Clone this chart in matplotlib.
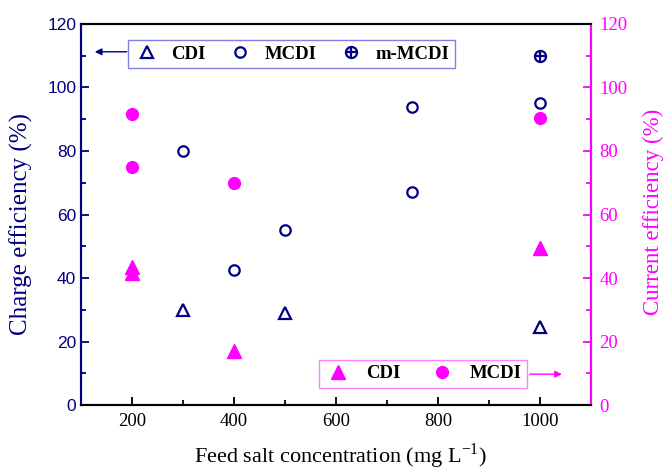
import matplotlib
matplotlib.use('Agg')
import matplotlib.pyplot as plt
from matplotlib.legend_handler import HandlerTuple
from matplotlib.ticker import MultipleLocator

NAVY, MAG = '#000080', '#FF00FF'
SERIF, SANS = 'Liberation Serif', 'Liberation Sans'
plt.rcParams['mathtext.fontset'] = 'custom'
plt.rcParams['mathtext.rm'] = SERIF

# charge efficiency (left axis, open markers)
cdi_charge_x = [300, 500, 1000]
cdi_charge = [30, 29, 24.5]
mcdi_charge_x = [300, 400, 500, 750, 750, 1000]
mcdi_charge = [80, 42.5, 55, 67, 94, 95]
mmcdi_charge_x = [1000]
mmcdi_charge = [110]

# current efficiency (right axis, filled markers)
cdi_current_x = [200, 200, 400, 1000]
cdi_current = [43.5, 41.5, 17, 49.5]
mcdi_current_x = [200, 200, 400, 1000]
mcdi_current = [91.5, 75, 70, 90.5]

fig = plt.figure(figsize=(6.65, 4.72), dpi=100)
ax = fig.add_axes([0.1218, 0.1419, 0.7669, 0.8073])
ax2 = ax.twinx()

ms_open = dict(ls='none', mfc='none', mec=NAVY, mew=1.6)
l_cdi, = ax.plot(cdi_charge_x, cdi_charge, '^', ms=8.5, **ms_open)
l_mcdi, = ax.plot(mcdi_charge_x, mcdi_charge, 'o', ms=7.5, **ms_open)
l_m1, = ax.plot(mmcdi_charge_x, mmcdi_charge, 'o', ms=8, **ms_open)
l_m2, = ax.plot(mmcdi_charge_x, mmcdi_charge, '+', ms=8, ls='none',
                color=NAVY, mew=1.6)
f_cdi, = ax2.plot(cdi_current_x, cdi_current, '^', ms=10.5, ls='none',
                  color=MAG, mec=MAG)
f_mcdi, = ax2.plot(mcdi_current_x, mcdi_current, 'o', ms=8.5, ls='none',
                   color=MAG, mec=MAG)

for a in (ax, ax2):
  a.set_xlim(100, 1100); a.set_ylim(0, 120)
  a.yaxis.set_major_locator(MultipleLocator(20))
  a.yaxis.set_minor_locator(MultipleLocator(10))
  for s in a.spines.values():
    s.set_linewidth(1.5)
ax.xaxis.set_minor_locator(MultipleLocator(100))
ax.set_xticks(range(200, 1001, 200))

ax.spines['left'].set_color(NAVY)
ax2.spines['left'].set_color(NAVY)
ax2.spines['right'].set_color(MAG)
ax.tick_params(axis='y', which='both', direction='in', colors=NAVY, width=1.3)
ax.tick_params(axis='y', which='major', length=6)
ax.tick_params(axis='y', which='minor', length=3.5)
ax.tick_params(axis='x', which='both', direction='in', width=1.3, pad=6)
ax.tick_params(axis='x', which='major', length=6)
ax.tick_params(axis='x', which='minor', length=3.5)
ax2.tick_params(axis='y', which='both', direction='in', colors=MAG, width=1.3)
ax2.tick_params(axis='y', which='major', length=6, pad=6)
ax2.tick_params(axis='y', which='minor', length=3.5)

for t in ax.get_yticklabels():
  t.set_fontfamily(SANS); t.set_fontsize(12.5)
for t in ax.get_xticklabels():
  t.set_fontfamily(SERIF); t.set_fontsize(13.5)
for t in ax2.get_yticklabels():
  t.set_fontfamily(SERIF); t.set_fontsize(13.5)

ax.set_ylabel('Charge efficiency (%)', family=SERIF, fontsize=18, color=NAVY)
ax.yaxis.set_label_coords(-0.094, 0.476)
ax2.set_ylabel('Current efficiency (%)', family=SERIF, fontsize=16.5, color=MAG)
ax2.yaxis.set_label_coords(1.102, 0.507)
# the reference crops this label at the bottom edge; lift it just enough to fit
ax.set_xlabel(r'Feed salt concentration (mg L$^{-1}$)', family=SERIF,
              fontsize=16)
ax.xaxis.set_label_coords(0.509, -0.095)

leg_font = dict(family=SERIF, weight='bold', size=13.5)
leg1 = ax2.legend([l_cdi, l_mcdi, (l_m1, l_m2)], ['CDI', 'MCDI', 'm-MCDI'],
                  handler_map={tuple: HandlerTuple(ndivide=1)},
                  ncol=3, loc='upper left', bbox_to_anchor=(0.092, 0.958),
                  borderaxespad=0, fancybox=False, framealpha=1,
                  edgecolor='#8080E0', prop=leg_font, handlelength=1.4,
                  handletextpad=0.6, columnspacing=1.15, borderpad=0.3)
leg1.get_frame().set_linewidth(1.0)
ax2.add_artist(leg1)
leg2 = ax2.legend([f_cdi, f_mcdi], ['CDI', 'MCDI'], ncol=2, loc='lower left',
                  bbox_to_anchor=(0.467, 0.045), borderaxespad=0,
                  fancybox=False, framealpha=1, edgecolor='#FF80FF',
                  prop=leg_font, handlelength=1.4, handletextpad=0.8,
                  columnspacing=1.5, borderpad=0.3)
leg2.get_frame().set_linewidth(1.0)

arrow = dict(arrowstyle='-|>', lw=1.0, mutation_scale=10, shrinkA=0, shrinkB=0)
ax2.annotate('', xy=(0.027, 0.927), xytext=(0.09, 0.927),
             xycoords='axes fraction', arrowprops=dict(arrow, color=NAVY))
ax2.annotate('', xy=(0.943, 0.081), xytext=(0.88, 0.081),
             xycoords='axes fraction', arrowprops=dict(arrow, color=MAG))

fig.savefig('out.png', dpi=100)
